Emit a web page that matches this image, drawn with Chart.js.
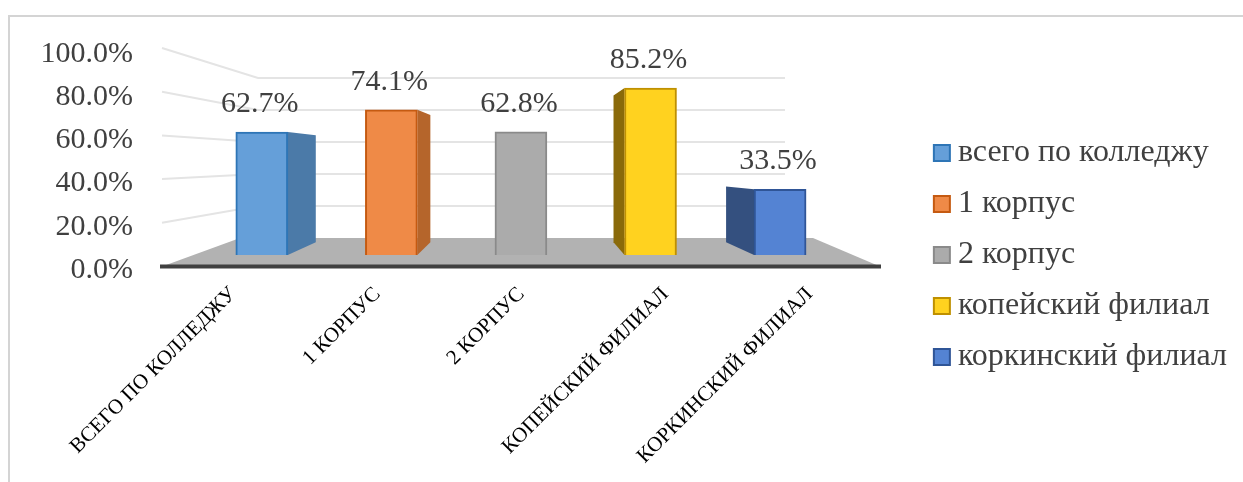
<!DOCTYPE html>
<html>
<head>
<meta charset="utf-8">
<script src="https://cdn.jsdelivr.net/npm/chart.js@4"></script>
<style>
html, body { margin: 0; padding: 0; background: #fff; overflow: hidden; }
#frame { position: absolute; left: 8px; top: 15px; width: 1235px; height: 467px; border-top: 2px solid #d4d4d4; border-left: 2px solid #d4d4d4; box-sizing: border-box; }
#myChart { position: absolute; left: 0; top: 0; }
</style>
</head>
<body>
<div id="frame"></div>
<canvas id="myChart" width="1243" height="482"></canvas>
<script>
// attendance by campus, fake 3D look of the office chart
const categories = ['ВСЕГО ПО КОЛЛЕДЖУ', '1 КОРПУС', '2 КОРПУС', 'КОПЕЙСКИЙ ФИЛИАЛ', 'КОРКИНСКИЙ ФИЛИАЛ'];
const seriesNames = ['всего по колледжу', '1 корпус', '2 корпус', 'копейский филиал', 'коркинский филиал'];
const values = [62.7, 74.1, 62.8, 85.2, 33.5];
const tickValues = [0, 20, 40, 60, 80, 100];

const fronts = ['#659fd9', '#ef8a47', '#ababab', '#ffd21f', '#5483d3'];
const edges = ['#2e75b6', '#c55a11', '#8a8a8a', '#bf9000', '#2f5597'];
const sides = ['#4b7aa8', '#b5652b', '#ababab', '#8a6a0a', '#34507f'];
const sideDepth = [28, 13, 0, -11, -28];

const serif = '"Liberation Serif", serif';
const textColor = '#404040';
const plotTop = 28;
const plotBottom = 270;

// value range of an axis whose 0 sits at zero px with perUnit px per percent
function range(zero, perUnit) {
    return {min: (zero - plotBottom) / perUnit, max: (zero - plotTop) / perUnit};
}

const depthPlugin = {
    id: 'depth',
    beforeDatasetsDraw(chart) {
        const ctx = chart.ctx;
        const {yWall, yBack} = chart.scales;
        ctx.save();
        // floor
        ctx.fillStyle = '#b2b2b2';
        ctx.beginPath();
        ctx.moveTo(162, yWall.getPixelForValue(0));
        ctx.lineTo(240, yBack.getPixelForValue(0));
        ctx.lineTo(813, yBack.getPixelForValue(0));
        ctx.lineTo(880, yWall.getPixelForValue(0));
        ctx.closePath();
        ctx.fill();
        // walls
        ctx.strokeStyle = '#e4e4e4';
        ctx.lineWidth = 2;
        tickValues.slice(1).forEach(v => {
            ctx.beginPath();
            ctx.moveTo(162, yWall.getPixelForValue(v));
            ctx.lineTo(258, yBack.getPixelForValue(v));
            ctx.lineTo(785, yBack.getPixelForValue(v));
            ctx.stroke();
        });
        // front edge of the floor
        ctx.strokeStyle = '#404040';
        ctx.lineWidth = 4;
        ctx.beginPath();
        ctx.moveTo(160, yWall.getPixelForValue(0));
        ctx.lineTo(881, yWall.getPixelForValue(0));
        ctx.stroke();
        // bar sides
        chart.getDatasetMeta(0).data.forEach((bar, i) => {
            const dx = sideDepth[i];
            if (!dx) return;
            const edge = bar.x + Math.sign(dx) * bar.width / 2;
            const backTop = bar.y + (yBack.getPixelForValue(values[i]) - bar.y) * 0.55;
            const backBase = bar.base + (yBack.getPixelForValue(0) - bar.base) * 0.75;
            ctx.fillStyle = sides[i];
            ctx.beginPath();
            ctx.moveTo(edge, bar.y);
            ctx.lineTo(edge + dx, backTop);
            ctx.lineTo(edge + dx, backBase);
            ctx.lineTo(edge, bar.base);
            ctx.closePath();
            ctx.fill();
        });
        ctx.restore();
    },
    afterDatasetsDraw(chart) {
        const ctx = chart.ctx;
        ctx.save();
        // value labels
        ctx.fillStyle = textColor;
        ctx.font = '30px ' + serif;
        ctx.textAlign = 'center';
        ctx.textBaseline = 'middle';
        chart.getDatasetMeta(0).data.forEach((bar, i) => {
            ctx.fillText(values[i].toFixed(1) + '%', bar.x - 2, bar.y - 28);
        });
        ctx.restore();
    },
    afterDraw(chart) {
        const ctx = chart.ctx;
        // legend squares sit closer to the text than the library allows
        chart.legend.legendHitBoxes.forEach((box, i) => {
            const x = box.left + 3;
            const y = box.top + box.height / 2 - 8;
            ctx.fillStyle = fronts[i];
            ctx.strokeStyle = edges[i];
            ctx.lineWidth = 2;
            ctx.fillRect(x, y, 16, 16);
            ctx.strokeRect(x, y, 16, 16);
        });
    }
};

new Chart(document.getElementById('myChart').getContext('2d'), {
    type: 'bar',
    data: {
        labels: categories,
        datasets: [{
            data: values,
            xAxisID: 'x',
            yAxisID: 'yBars',
            backgroundColor: fronts,
            borderColor: edges,
            borderWidth: 2,
            barThickness: 52
        }]
    },
    options: {
        responsive: false,
        animation: false,
        layout: {padding: {top: plotTop, bottom: 0, left: 0, right: 6}},
        plugins: {
            tooltip: {enabled: false},
            legend: {
                position: 'right',
                maxWidth: 345,
                labels: {
                    boxWidth: 11,
                    boxHeight: 16,
                    padding: 19,
                    color: textColor,
                    font: {family: serif, size: 32},
                    generateLabels: () => seriesNames.map((name, i) => ({
                        text: name,
                        fontColor: textColor,
                        fillStyle: 'transparent',
                        strokeStyle: 'transparent',
                        lineWidth: 0,
                        index: i
                    }))
                }
            }
        },
        scales: {
            x: {display: false},
            xNames: {
                type: 'linear',
                position: 'bottom',
                offset: false,
                min: -0.25,
                max: 4.244,
                afterBuildTicks: s => { s.ticks = categories.map((c, i) => ({value: i})); },
                afterFit: s => { s.height = 482 - plotBottom; },
                grid: {display: false},
                border: {display: false},
                ticks: {
                    autoSkip: false,
                    minRotation: 45,
                    maxRotation: 45,
                    padding: 4,
                    color: '#000',
                    font: {family: serif, size: 21},
                    callback: v => categories[v]
                }
            },
            y: {
                position: 'left',
                weight: 1,
                ...range(270, 2.16),
                afterBuildTicks: s => { s.ticks = tickValues.map(v => ({value: v})); },
                afterFit: s => { s.width = 141; },
                grid: {display: false},
                border: {display: false},
                ticks: {
                    autoSkip: false,
                    padding: 0,
                    color: textColor,
                    font: {family: serif, size: 30},
                    callback: v => v.toFixed(1) + '%'
                }
            },
            // empty axis, keeps the gap between tick labels and the bars
            yBack: {
                position: 'left',
                ...range(238, 1.6),
                afterBuildTicks: s => { s.ticks = []; },
                afterFit: s => { s.width = 56; },
                grid: {display: false},
                border: {display: false},
                ticks: {display: false}
            },
            yBars: {display: false, ...range(255, 1.96)},
            // empty axis on the right, keeps the gap to the legend
            yWall: {
                position: 'right',
                ...range(266.5, 2.185),
                afterBuildTicks: s => { s.ticks = []; },
                afterFit: s => { s.width = 67; },
                grid: {display: false},
                border: {display: false},
                ticks: {display: false}
            }
        }
    },
    plugins: [depthPlugin]
});
</script>
</body>
</html>
